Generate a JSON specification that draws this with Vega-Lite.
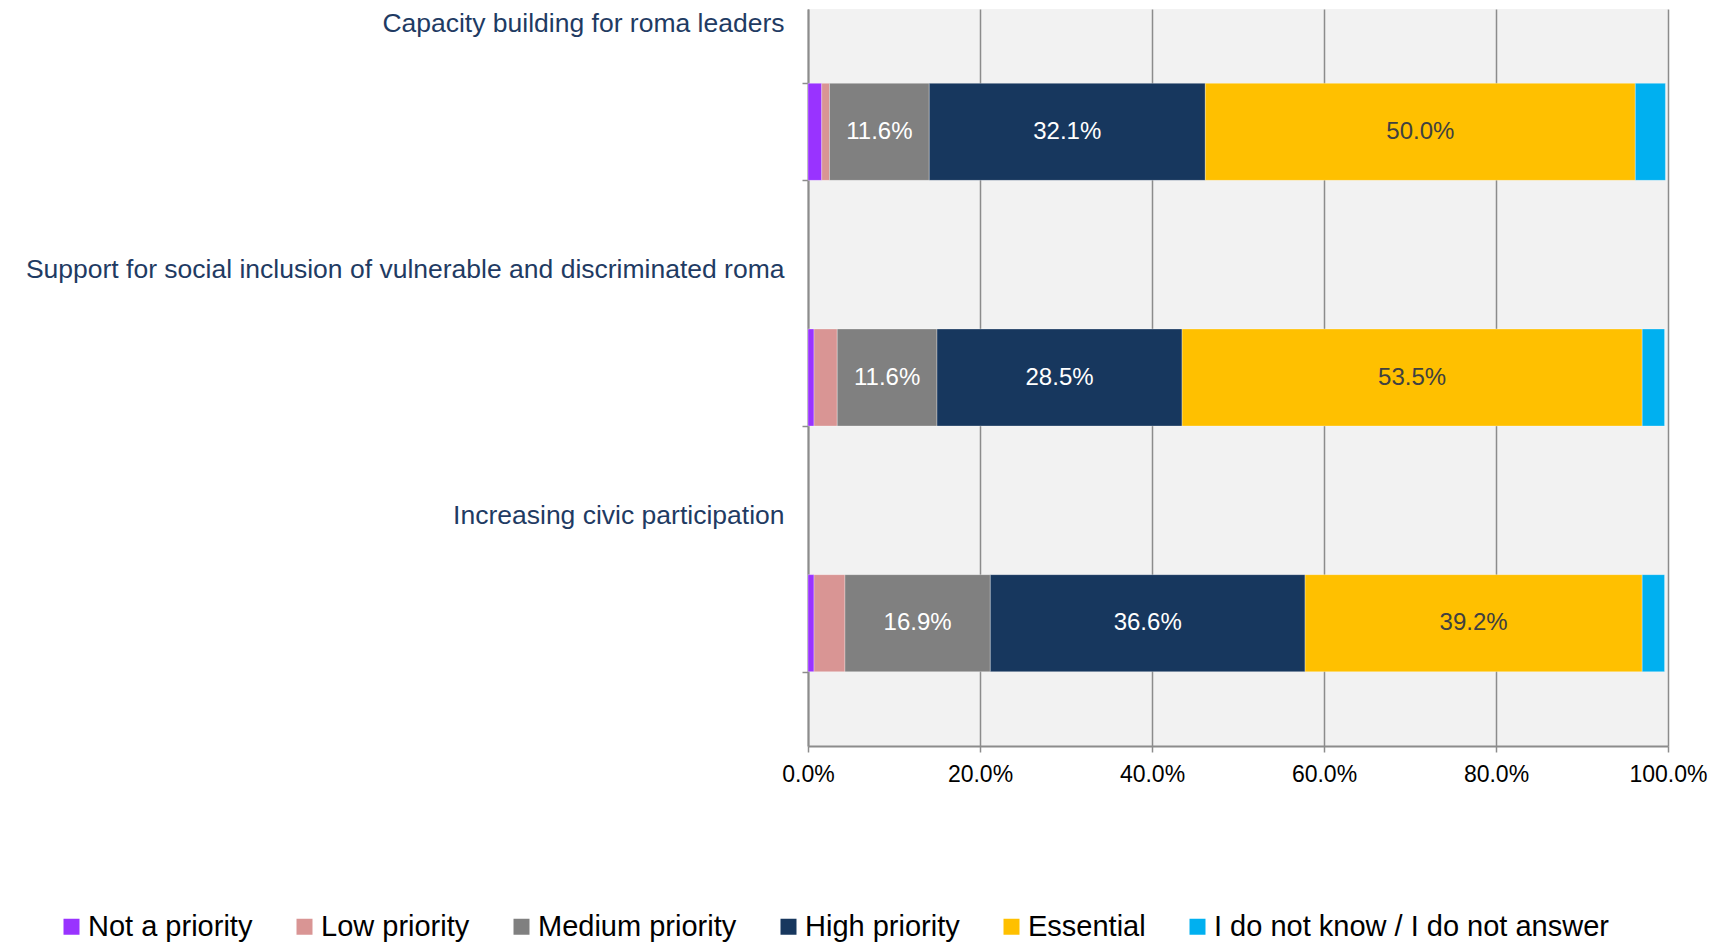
{
  "$schema": "https://vega.github.io/schema/vega-lite/v6.json",
  "autosize": {"type": "none"},
  "width": 860,
  "height": 737,
  "padding": {"left": 808, "top": 9, "right": 59, "bottom": 197},
  "background": "white",
  "config": {
    "font": "Liberation Sans",
    "view": {"fill": "#f2f2f2", "stroke": null}
  },
  "data": {
    "values": [
      {"item": "Capacity building for roma leaders", "cat": "Not a priority", "ord": 1, "value": 0.016},
      {"item": "Capacity building for roma leaders", "cat": "Low priority", "ord": 2, "value": 0.009},
      {"item": "Capacity building for roma leaders", "cat": "Medium priority", "ord": 3, "value": 0.116},
      {"item": "Capacity building for roma leaders", "cat": "High priority", "ord": 4, "value": 0.321},
      {"item": "Capacity building for roma leaders", "cat": "Essential", "ord": 5, "value": 0.500},
      {"item": "Capacity building for roma leaders", "cat": "I do not know / I do not answer", "ord": 6, "value": 0.035},
      {"item": "Support for social inclusion of vulnerable and discriminated roma", "cat": "Not a priority", "ord": 1, "value": 0.007},
      {"item": "Support for social inclusion of vulnerable and discriminated roma", "cat": "Low priority", "ord": 2, "value": 0.027},
      {"item": "Support for social inclusion of vulnerable and discriminated roma", "cat": "Medium priority", "ord": 3, "value": 0.116},
      {"item": "Support for social inclusion of vulnerable and discriminated roma", "cat": "High priority", "ord": 4, "value": 0.285},
      {"item": "Support for social inclusion of vulnerable and discriminated roma", "cat": "Essential", "ord": 5, "value": 0.535},
      {"item": "Support for social inclusion of vulnerable and discriminated roma", "cat": "I do not know / I do not answer", "ord": 6, "value": 0.026},
      {"item": "Increasing civic participation", "cat": "Not a priority", "ord": 1, "value": 0.007},
      {"item": "Increasing civic participation", "cat": "Low priority", "ord": 2, "value": 0.036},
      {"item": "Increasing civic participation", "cat": "Medium priority", "ord": 3, "value": 0.169},
      {"item": "Increasing civic participation", "cat": "High priority", "ord": 4, "value": 0.366},
      {"item": "Increasing civic participation", "cat": "Essential", "ord": 5, "value": 0.392},
      {"item": "Increasing civic participation", "cat": "I do not know / I do not answer", "ord": 6, "value": 0.026}
    ]
  },
  "transform": [
    {"stack": "value", "groupby": ["item"], "sort": [{"field": "ord", "order": "ascending"}], "as": ["v0", "v1"]}
  ],
  "encoding": {
    "y": {
      "field": "item",
      "type": "nominal",
      "sort": ["Capacity building for roma leaders", "Support for social inclusion of vulnerable and discriminated roma", "Increasing civic participation"],
      "scale": {"paddingInner": 0.605, "paddingOuter": 0.3025},
      "axis": {
        "title": null,
        "tickBand": "extent",
        "labelOffset": -108,
        "labelFontSize": 26.5,
        "labelColor": "#1f3b63",
        "labelLimit": 800,
        "labelPadding": 18,
        "labelAlign": "right",
        "labelBaseline": "middle",
        "tickSize": 6,
        "tickColor": "#8c8c8c",
        "tickWidth": 1.5,
        "domainColor": "#8c8c8c",
        "domainWidth": 2,
        "grid": false
      }
    }
  },
  "layer": [
    {
      "mark": {"type": "bar", "stroke": "#ffffff", "strokeWidth": 0.5, "strokeOpacity": 0.6},
      "encoding": {
        "x": {
          "field": "v0",
          "type": "quantitative",
          "scale": {"domain": [0, 1], "nice": false},
          "axis": {
            "title": null,
            "values": [0, 0.2, 0.4, 0.6, 0.8, 1],
            "format": ".1%",
            "grid": true,
            "gridColor": "#8c8c8c",
            "gridWidth": 1.5,
            "domainColor": "#8c8c8c",
            "domainWidth": 2,
            "tickColor": "#8c8c8c",
            "tickWidth": 1.5,
            "tickSize": 6,
            "labelFontSize": 23,
            "labelColor": "#000000",
            "labelPadding": 11,
            "labelFlush": false
          }
        },
        "x2": {"field": "v1"},
        "color": {
          "field": "cat",
          "type": "nominal",
          "sort": ["Not a priority", "Low priority", "Medium priority", "High priority", "Essential", "I do not know / I do not answer"],
          "scale": {
            "domain": ["Not a priority", "Low priority", "Medium priority", "High priority", "Essential", "I do not know / I do not answer"],
            "range": ["#9933ff", "#d99594", "#808080", "#17375e", "#ffc000", "#00b0f0"]
          },
          "legend": {
            "title": null,
            "orient": "none",
            "direction": "horizontal",
            "legendX": -751,
            "legendY": 903,
            "symbolType": "square",
            "symbolSize": 256,
            "symbolStrokeWidth": 0,
            "labelFontSize": 29,
            "labelColor": "#000000",
            "labelOffset": 2,
            "columnPadding": 37,
            "labelLimit": 600,
            "padding": 0
          }
        }
      }
    },
    {
      "transform": [
        {"filter": "datum.ord >= 3 && datum.ord <= 5"},
        {"fold": ["v0", "v1"], "as": ["edge", "pos"]},
        {"aggregate": [{"op": "mean", "field": "pos", "as": "mid"}], "groupby": ["item", "cat", "ord", "value"]}
      ],
      "mark": {"type": "text", "fontSize": 24, "baseline": "middle", "align": "center"},
      "encoding": {
        "x": {"field": "mid", "type": "quantitative"},
        "text": {"field": "value", "type": "quantitative", "format": ".1%"},
        "color": {
          "condition": {"test": "datum.cat === 'Essential'", "value": "#404040"},
          "value": "#ffffff"
        }
      }
    }
  ]
}
